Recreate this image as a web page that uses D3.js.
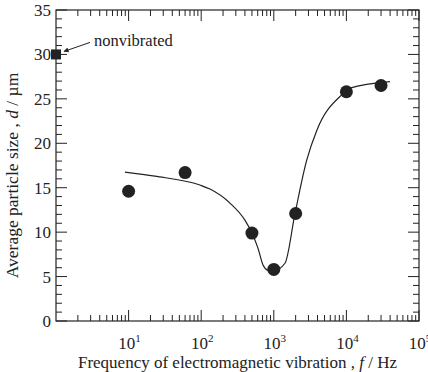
<!doctype html>
<html>
<head>
<style>
  body { margin: 0; background: #fff; }
</style>
</head>
<body>
<svg></svg>
<script src="https://cdnjs.cloudflare.com/ajax/libs/d3/7.8.5/d3.min.js"></script>
<script>
// measured points
var freq = [10, 60, 500, 1000, 2000, 10000, 30000];
var size = [14.6, 16.7, 9.9, 5.8, 12.1, 25.8, 26.5];
// nonvibrated reference
var nonvibSize = 30;
// fitted curve
var curveF = [8.9, 23, 96, 132, 249, 400, 500, 605, 710, 830, 975, 1425, 1960, 2840, 3935, 8610, 11200, 39800];
var curveD = [16.76, 16.3, 15.3, 14.85, 13.27, 11.35, 9.9, 8.2, 6.3, 5.7, 5.6, 6.5, 12.1, 18.1, 21.5, 25.45, 26.2, 26.95];
var yTicks = [0, 5, 10, 15, 20, 25, 30, 35];
var xDecades = [1, 2, 3, 4, 5];

var width = 428, height = 372;
var margin = { top: 10, right: 9, bottom: 51, left: 56 };
var w = width - margin.left - margin.right,
    h = height - margin.top - margin.bottom;
var font = "Liberation Serif";

var svg = d3.select("svg").attr("width", width).attr("height", height);
var g = svg.append("g").attr("transform", "translate(" + margin.left + "," + margin.top + ")");

var x = d3.scaleLog().domain([1, 1e5]).range([0, w]);
var y = d3.scaleLinear().domain([0, 35]).range([h, 0]);

var ink = "#222";

// frame
g.append("rect").attr("width", w).attr("height", h)
  .attr("fill", "none").attr("stroke", ink).attr("stroke-width", 1.2);

// x ticks (bottom + top), inward
var xMinor = [];
for (var e = 0; e < 5; e++) for (var m = 2; m <= 9; m++) xMinor.push(m * Math.pow(10, e));
var xMajor = xDecades.map(function(d) { return Math.pow(10, d); });

function tickLines(data, len, horizontal) {
  data.forEach(function(d) {
    if (horizontal) {
      g.append("line").attr("stroke", ink)
        .attr("x1", x(d)).attr("x2", x(d)).attr("y1", h).attr("y2", h - len);
      g.append("line").attr("stroke", ink)
        .attr("x1", x(d)).attr("x2", x(d)).attr("y1", 0).attr("y2", len);
    } else {
      g.append("line").attr("stroke", ink)
        .attr("x1", 0).attr("x2", len).attr("y1", y(d)).attr("y2", y(d));
      g.append("line").attr("stroke", ink)
        .attr("x1", w).attr("x2", w - len).attr("y1", y(d)).attr("y2", y(d));
    }
  });
}
tickLines(xMinor, 6, true);
tickLines(xMajor, 11, true);

var yMinor = d3.range(0, 36).filter(function(d) { return d % 5 !== 0; });
tickLines(yMinor, 6, false);
tickLines(yTicks, 11, false);

// y tick labels
g.selectAll(".ylab").data(yTicks).enter().append("text")
  .attr("x", -5).attr("y", function(d) { return y(d) + 6; })
  .attr("text-anchor", "end").attr("font-size", 17).attr("fill", ink)
  .style("font-family", font)
  .text(function(d) { return d; });

// x tick labels 10^n
var xl = g.selectAll(".xlab").data(xDecades).enter().append("text")
  .attr("x", function(d) { return x(Math.pow(10, d)) + 1; })
  .attr("y", h + 28).attr("text-anchor", "middle").attr("font-size", 17).attr("fill", ink)
  .style("font-family", font);
xl.append("tspan").text("10");
xl.append("tspan").attr("dy", -7).attr("font-size", 11).text(function(d) { return d; });

// axis titles
g.append("text").attr("x", w / 2).attr("y", h + 47)
  .attr("text-anchor", "middle").attr("font-size", 17).attr("fill", ink)
  .style("font-family", font)
  .html("Frequency of electromagnetic vibration ,  <tspan font-style='italic'>f</tspan> / Hz");

g.append("text")
  .attr("transform", "translate(" + (-38) + "," + (h / 2 + 10) + ") rotate(-90)")
  .attr("text-anchor", "middle").attr("font-size", 17.5).attr("fill", ink)
  .style("font-family", font)
  .html("Average particle size , <tspan font-style='italic'>d</tspan> / \u00b5m");

// curve
var line = d3.line()
  .x(function(d, i) { return x(curveF[i]); })
  .y(function(d, i) { return y(curveD[i]); })
  .curve(d3.curveMonotoneX);
g.append("path").datum(curveF).attr("d", line)
  .attr("fill", "none").attr("stroke", ink).attr("stroke-width", 1.2);

// points
g.selectAll(".pt").data(freq).enter().append("circle")
  .attr("cx", function(d) { return x(d); })
  .attr("cy", function(d, i) { return y(size[i]); })
  .attr("r", 6.5).attr("fill", ink);

// nonvibrated square at left edge
g.append("rect")
  .attr("x", x(1) - 5).attr("y", y(nonvibSize) - 5)
  .attr("width", 10).attr("height", 10).attr("fill", ink);

// arrow + label
svg.append("defs").append("marker").attr("id", "ah")
  .attr("viewBox", "0 0 10 10").attr("refX", 9).attr("refY", 5)
  .attr("markerWidth", 7).attr("markerHeight", 5).attr("orient", "auto")
  .append("path").attr("d", "M0,0L10,5L0,10z").attr("fill", ink);
g.append("line")
  .attr("x1", x(1) + 34).attr("y1", y(nonvibSize) - 12)
  .attr("x2", x(1) + 8).attr("y2", y(nonvibSize) - 3)
  .attr("stroke", ink).attr("stroke-width", 1).attr("marker-end", "url(#ah)");
g.append("text").attr("x", x(1) + 38).attr("y", y(nonvibSize) - 8)
  .attr("font-size", 16.5).attr("fill", ink)
  .style("font-family", font).text("nonvibrated");
</script>
</body>
</html>
